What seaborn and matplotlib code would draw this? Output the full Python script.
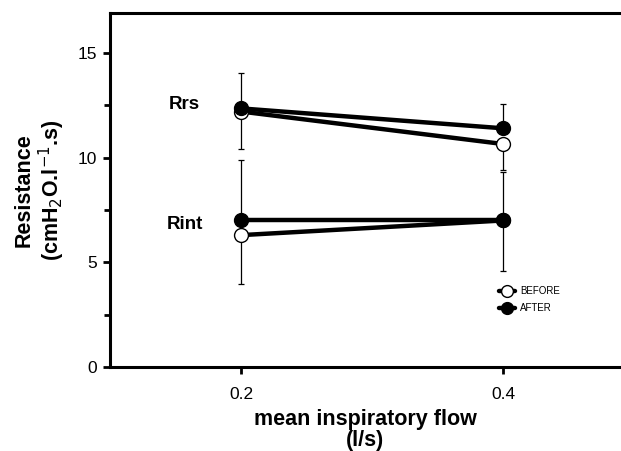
import matplotlib
matplotlib.use("Agg")
import matplotlib.pyplot as plt
import seaborn as sns
import pandas as pd

# values
flow = [0.2, 0.4]
rrs_before = [12.2, 10.65]
rrs_after = [12.35, 11.4]
rint_before = [6.3, 7.0]
rint_after = [7.0, 7.0]

# one-sided SD bars: AFTER upward, BEFORE downward
rrs_after_up = [1.7, 1.15]
rrs_before_down = [1.77, 1.25]
rint_after_up = [2.9, 2.33]
rint_before_down = [2.35, 2.4]

sns.set_style("ticks")
plt.rcParams['font.family'] = ['Liberation Sans', 'DejaVu Sans']
plt.rcParams.update({'text.color': 'black', 'axes.labelcolor': 'black',
                     'xtick.color': 'black', 'ytick.color': 'black',
                     'axes.edgecolor': 'black'})

fig = plt.figure(figsize=(6.21, 4.51), dpi=100)
ax = fig.add_axes([0.177, 0.186, 0.823, 0.785])

series = [
    (rrs_before, [rrs_before_down, [0, 0]], 'white', 'BEFORE'),
    (rrs_after, [[0, 0], rrs_after_up], 'black', 'AFTER'),
    (rint_before, [rint_before_down, [0, 0]], 'white', None),
    (rint_after, [[0, 0], rint_after_up], 'black', None),
]

for vals, err, face, lab in series:
    ax.errorbar(flow, vals, yerr=err, fmt='none', ecolor='black',
                elinewidth=0.9, capsize=2.5, capthick=0.9, zorder=1)
    df = pd.DataFrame({'flow': flow, 'R': vals})
    sns.lineplot(data=df, x='flow', y='R', ax=ax, color='black',
                 linewidth=3.2, marker='o', markersize=10,
                 markerfacecolor=face, markeredgecolor='black',
                 markeredgewidth=1.0, label=lab, zorder=3)

ax.text(0.157, 12.55, 'Rrs', fontsize=13.5, fontweight='bold',
        ha='center', va='center')
ax.text(0.157, 6.8, 'Rint', fontsize=13.5, fontweight='bold',
        ha='center', va='center')

ax.set_xlim(0.1, 0.49)
ax.set_ylim(0, 16.9)
ax.set_xticks(flow)
ax.set_xticklabels(['0.2', '0.4'])
ax.set_yticks([0, 5, 10, 15])
ax.set_yticks([2.5, 7.5, 12.5], minor=True)

ax.tick_params(axis='both', labelsize=12.5, width=2, length=5,
               direction='out', pad=4)
ax.tick_params(axis='y', which='minor', width=2, length=4)
ax.tick_params(axis='x', pad=9)

for side in ['left', 'bottom', 'top']:
    ax.spines[side].set_linewidth(2.2)
ax.spines['right'].set_visible(False)

ax.set_ylabel('Resistance\n(cmH$_2$O.l$^{-1}$.s)', fontsize=15.5,
              fontweight='bold', linespacing=1.1, labelpad=8)
ax.set_xlabel('mean inspiratory flow\n(l/s)', fontsize=15.5,
              fontweight='bold', linespacing=1.05, labelpad=5)

leg = ax.legend(loc='center left', bbox_to_anchor=(0.745, 0.19),
                frameon=False, fontsize=7, handlelength=1.6,
                handletextpad=0.5, labelspacing=0.75, markerscale=0.85)

plt.savefig('out.png', dpi=100)
plt.close()
